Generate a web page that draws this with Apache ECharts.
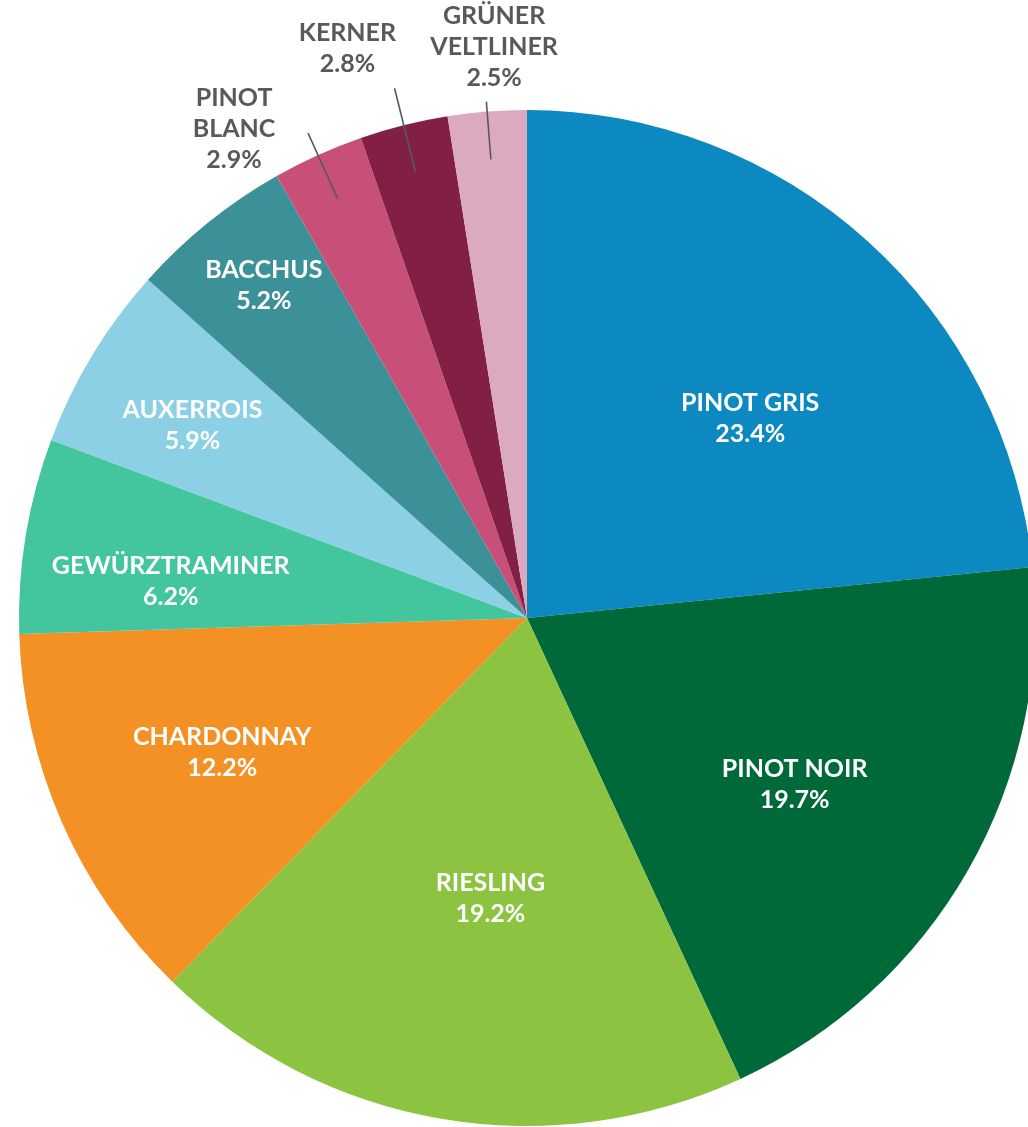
<!DOCTYPE html>
<html>
<head>
<meta charset="utf-8">
<script src="https://cdn.jsdelivr.net/npm/echarts@6/dist/echarts.min.js"></script>
<style>
html, body { margin: 0; padding: 0; background: #fff; }
#chart { width: 1028px; height: 1127px; }
</style>
</head>
<body>
<div id="chart"></div>
<script>
// wine varieties and their share (%)
const varieties = ['Pinot Gris', 'Pinot Noir', 'Riesling', 'Chardonnay', 'Gewürztraminer',
    'Auxerrois', 'Bacchus', 'Pinot Blanc', 'Kerner', 'Grüner Veltliner'];
const shares = [23.4, 19.7, 19.2, 12.2, 6.2, 5.9, 5.2, 2.9, 2.8, 2.5];
const colors = ['#0b89c0', '#00693a', '#8cc441', '#f39124', '#43c59d',
    '#8bd0e4', '#3c9198', '#c84f77', '#811f45', '#dcaabe'];

const center = [527, 618];
const radius = 508;
// label distance from centre (px) and a small nudge [x, y] for each label
const labelRadius = [294, 312, 279, 330, 354, 382, 421, 563, 593, 569];
const labelNudge = [[24, 21], [-6, 10], [11, 2], [0, 0], [-4, 21], [-5, 7], [3, -2], [-60, 27], [-35, 9], [12, -1]];
// slices from here on are labelled outside, with a leader line
const firstOuter = 7;
const leaderLength = [72, 86, 58];

const font = { fontFamily: 'Lato', fontSize: 25, fontWeight: 'bold', lineHeight: 31 };

function fmt(p) {
    let name = p.name.toUpperCase();
    if (p.dataIndex >= firstOuter) name = name.replace(' ', '\n');
    return name + '\n' + p.value.toFixed(1) + '%';
}

const chart = echarts.init(document.getElementById('chart'));

const series = [{
    type: 'pie',
    z: 1,
    center: center,
    radius: radius,
    startAngle: 90,
    silent: true,
    label: { show: false },
    labelLine: { show: false },
    data: varieties.map((n, i) => ({ name: n, value: shares[i], itemStyle: { color: colors[i] } })),
}];

// leader lines for the small slices
series.push({
    type: 'pie',
    center: center,
    radius: 460,
    startAngle: 90,
    silent: true,
    avoidLabelOverlap: false,
    labelLayout: { hideOverlap: false },
    itemStyle: { color: 'rgba(0,0,0,0)' },
    data: varieties.map((n, j) => {
        const k = j - firstOuter;
        return {
            name: n,
            value: shares[j],
            label: k >= 0
                ? { show: true, position: 'outside', formatter: '.', color: 'rgba(0,0,0,0)', fontSize: 1, distanceToLabelLine: 0 }
                : { show: false },
            labelLine: k >= 0
                ? { show: true, length: leaderLength[k], length2: 0, lineStyle: { color: '#58595b', width: 1.6 } }
                : { show: false },
        };
    }),
});

// one transparent ring per label, so each label sits at its own distance
labelRadius.forEach((r, i) => {
    series.push({
        type: 'pie',
        center: center,
        radius: r * 2,
        startAngle: 90,
        silent: true,
        avoidLabelOverlap: false,
        itemStyle: { color: 'rgba(0,0,0,0)' },
        labelLine: { show: false },
        labelLayout: function () {
            return { dx: labelNudge[i][0], dy: labelNudge[i][1], hideOverlap: false };
        },
        data: varieties.map((n, j) => ({
            name: n,
            value: shares[j],
            label: Object.assign({
                show: j === i,
                position: 'inside',
                color: i >= firstOuter ? '#58595b' : '#fff',
                formatter: fmt,
            }, font),
        })),
    });
});

chart.setOption({ animation: false, series: series });
</script>
</body>
</html>
